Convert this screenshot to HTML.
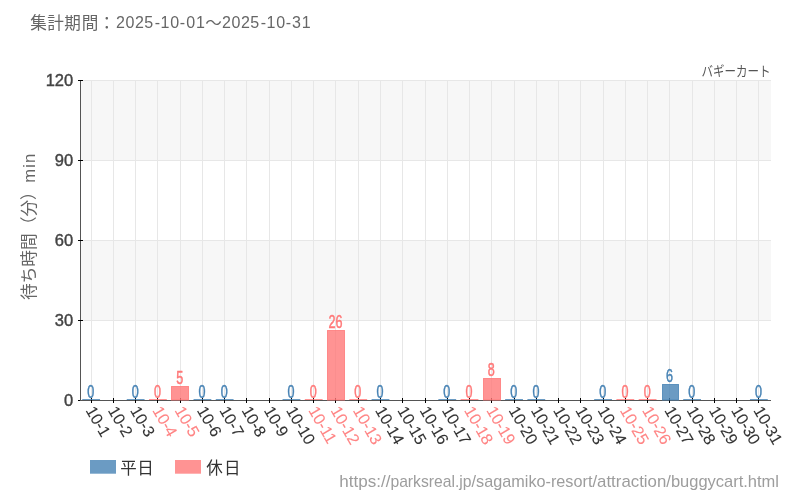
<!DOCTYPE html>
<html lang="ja"><head><meta charset="utf-8"><title>バギーカート 待ち時間</title>
<style>html,body{margin:0;padding:0;background:#fff}body{width:800px;height:500px;overflow:hidden;font-family:"Liberation Sans",sans-serif}svg{display:block}</style>
</head><body>
<svg width="800" height="500" viewBox="0 0 800 500" role="img" aria-label="バギーカート 待ち時間 2025-10">
<title>バギーカート 待ち時間（分）min 集計期間：2025-10-01～2025-10-31</title>
<desc>平日 / 休日</desc>
<rect width="800" height="500" fill="#fff"/>
<g style="will-change:transform">
<g fill="#f7f7f7"><rect x="81" y="80" width="690" height="80"/><rect x="81" y="240" width="690" height="80"/></g>
<g fill="#e7e7e7"><rect x="81" y="80" width="690" height="1"/><rect x="81" y="160" width="690" height="1"/><rect x="81" y="240" width="690" height="1"/><rect x="81" y="320" width="690" height="1"/><rect x="91" y="80" width="1" height="318"/><rect x="113" y="80" width="1" height="318"/><rect x="135" y="80" width="1" height="318"/><rect x="157" y="80" width="1" height="318"/><rect x="180" y="80" width="1" height="318"/><rect x="202" y="80" width="1" height="318"/><rect x="224" y="80" width="1" height="318"/><rect x="246" y="80" width="1" height="318"/><rect x="269" y="80" width="1" height="318"/><rect x="291" y="80" width="1" height="318"/><rect x="313" y="80" width="1" height="318"/><rect x="335" y="80" width="1" height="318"/><rect x="358" y="80" width="1" height="318"/><rect x="380" y="80" width="1" height="318"/><rect x="402" y="80" width="1" height="318"/><rect x="425" y="80" width="1" height="318"/><rect x="447" y="80" width="1" height="318"/><rect x="469" y="80" width="1" height="318"/><rect x="491" y="80" width="1" height="318"/><rect x="514" y="80" width="1" height="318"/><rect x="536" y="80" width="1" height="318"/><rect x="558" y="80" width="1" height="318"/><rect x="580" y="80" width="1" height="318"/><rect x="603" y="80" width="1" height="318"/><rect x="625" y="80" width="1" height="318"/><rect x="647" y="80" width="1" height="318"/><rect x="669" y="80" width="1" height="318"/><rect x="692" y="80" width="1" height="318"/><rect x="714" y="80" width="1" height="318"/><rect x="736" y="80" width="1" height="318"/><rect x="758" y="80" width="1" height="318"/></g>
<rect x="80" y="80" width="1" height="321" fill="#555"/>
<g fill="#000"><rect x="78" y="80" width="5" height="1"/><rect x="78" y="160" width="5" height="1"/><rect x="78" y="240" width="5" height="1"/><rect x="78" y="320" width="5" height="1"/><rect x="78" y="400" width="5" height="1"/></g>
<rect x="80" y="400" width="691" height="1" fill="#555"/>
<g fill="#000"><rect x="91" y="398" width="1" height="5"/><rect x="113" y="398" width="1" height="5"/><rect x="135" y="398" width="1" height="5"/><rect x="157" y="398" width="1" height="5"/><rect x="180" y="398" width="1" height="5"/><rect x="202" y="398" width="1" height="5"/><rect x="224" y="398" width="1" height="5"/><rect x="246" y="398" width="1" height="5"/><rect x="269" y="398" width="1" height="5"/><rect x="291" y="398" width="1" height="5"/><rect x="313" y="398" width="1" height="5"/><rect x="335" y="398" width="1" height="5"/><rect x="358" y="398" width="1" height="5"/><rect x="380" y="398" width="1" height="5"/><rect x="402" y="398" width="1" height="5"/><rect x="425" y="398" width="1" height="5"/><rect x="447" y="398" width="1" height="5"/><rect x="469" y="398" width="1" height="5"/><rect x="491" y="398" width="1" height="5"/><rect x="514" y="398" width="1" height="5"/><rect x="536" y="398" width="1" height="5"/><rect x="558" y="398" width="1" height="5"/><rect x="580" y="398" width="1" height="5"/><rect x="603" y="398" width="1" height="5"/><rect x="625" y="398" width="1" height="5"/><rect x="647" y="398" width="1" height="5"/><rect x="669" y="398" width="1" height="5"/><rect x="692" y="398" width="1" height="5"/><rect x="714" y="398" width="1" height="5"/><rect x="736" y="398" width="1" height="5"/><rect x="758" y="398" width="1" height="5"/></g>
<g fill="#4682b4" stroke="#4682b4" fill-opacity="0.8" stroke-opacity="0.8" stroke-width="0"><rect x="82.23" y="399" width="17.81" height="1"/><rect x="126.74" y="399" width="17.81" height="1"/><rect x="193.52" y="399" width="17.81" height="1"/><rect x="215.77" y="399" width="17.81" height="1"/><rect x="282.55" y="399" width="17.81" height="1"/><rect x="371.58" y="399" width="17.81" height="1"/><rect x="438.35" y="399" width="17.81" height="1"/><rect x="505.13" y="399" width="17.81" height="1"/><rect x="527.39" y="399" width="17.81" height="1"/><rect x="594.16" y="399" width="17.81" height="1"/><rect x="662.5" y="384.5" width="16" height="15.5" stroke-width="1"/><rect x="683.19" y="399" width="17.81" height="1"/><rect x="749.97" y="399" width="17.81" height="1"/></g>
<g fill="#ff7878" stroke="#ff7878" fill-opacity="0.8" stroke-opacity="0.8" stroke-width="0"><rect x="149.00" y="399" width="17.81" height="1"/><rect x="171.5" y="386.5" width="17" height="13.5" stroke-width="1"/><rect x="304.81" y="399" width="17.81" height="1"/><rect x="327.5" y="330.5" width="17" height="69.5" stroke-width="1"/><rect x="349.32" y="399" width="17.81" height="1"/><rect x="460.61" y="399" width="17.81" height="1"/><rect x="483.5" y="378.5" width="17" height="21.5" stroke-width="1"/><rect x="616.42" y="399" width="17.81" height="1"/><rect x="638.68" y="399" width="17.81" height="1"/></g>
<g font-family="Liberation Sans, sans-serif" font-size="16.5" fill="#444" stroke="#444" stroke-width="0.4" text-anchor="end"><text x="73.2" y="86.3">120</text><text x="73.2" y="166.3">90</text><text x="73.2" y="246.3">60</text><text x="73.2" y="326.3">30</text><text x="73.2" y="406.3">0</text></g>
<g font-family="Liberation Sans, sans-serif" font-size="18" text-anchor="middle" stroke-width="0.5" paint-order="stroke" stroke-linejoin="round"><g fill="#4682b4" stroke="#4682b4"><text transform="translate(90.73,397.90) scale(0.70,1)">0</text><text transform="translate(135.25,397.90) scale(0.70,1)">0</text><text transform="translate(202.02,397.90) scale(0.70,1)">0</text><text transform="translate(224.28,397.90) scale(0.70,1)">0</text><text transform="translate(291.05,397.90) scale(0.70,1)">0</text><text transform="translate(380.08,397.90) scale(0.70,1)">0</text><text transform="translate(446.86,397.90) scale(0.70,1)">0</text><text transform="translate(513.63,397.90) scale(0.70,1)">0</text><text transform="translate(535.89,397.90) scale(0.70,1)">0</text><text transform="translate(602.66,397.90) scale(0.70,1)">0</text><text transform="translate(669.44,381.60) scale(0.70,1)">6</text><text transform="translate(691.70,397.90) scale(0.70,1)">0</text><text transform="translate(758.47,397.90) scale(0.70,1)">0</text></g><g fill="#ff7878" stroke="#ff7878"><text transform="translate(157.50,397.90) scale(0.70,1)">0</text><text transform="translate(179.76,383.60) scale(0.70,1)">5</text><text transform="translate(313.31,397.90) scale(0.70,1)">0</text><text transform="translate(335.57,327.60) scale(0.70,1)">26</text><text transform="translate(357.83,397.90) scale(0.70,1)">0</text><text transform="translate(469.12,397.90) scale(0.70,1)">0</text><text transform="translate(491.37,375.60) scale(0.70,1)">8</text><text transform="translate(624.92,397.90) scale(0.70,1)">0</text><text transform="translate(647.18,397.90) scale(0.70,1)">0</text></g></g>
<g font-family="Liberation Sans, sans-serif" font-size="16.2" letter-spacing="-0.1" fill="#333" stroke="#333" stroke-width="0.1"><text transform="translate(85.33,410.30) rotate(60)">10-1</text><text transform="translate(107.59,410.30) rotate(60)">10-2</text><text transform="translate(129.85,410.30) rotate(60)">10-3</text><text transform="translate(152.10,410.30) rotate(60)" fill="#ff8484" stroke="#ff8484">10-4</text><text transform="translate(174.36,410.30) rotate(60)" fill="#ff8484" stroke="#ff8484">10-5</text><text transform="translate(196.62,410.30) rotate(60)">10-6</text><text transform="translate(218.88,410.30) rotate(60)">10-7</text><text transform="translate(241.14,410.30) rotate(60)">10-8</text><text transform="translate(263.39,410.30) rotate(60)">10-9</text><text transform="translate(285.65,410.30) rotate(60)">10-10</text><text transform="translate(307.91,410.30) rotate(60)" fill="#ff8484" stroke="#ff8484">10-11</text><text transform="translate(330.17,410.30) rotate(60)" fill="#ff8484" stroke="#ff8484">10-12</text><text transform="translate(352.43,410.30) rotate(60)" fill="#ff8484" stroke="#ff8484">10-13</text><text transform="translate(374.68,410.30) rotate(60)">10-14</text><text transform="translate(396.94,410.30) rotate(60)">10-15</text><text transform="translate(419.20,410.30) rotate(60)">10-16</text><text transform="translate(441.46,410.30) rotate(60)">10-17</text><text transform="translate(463.72,410.30) rotate(60)" fill="#ff8484" stroke="#ff8484">10-18</text><text transform="translate(485.97,410.30) rotate(60)" fill="#ff8484" stroke="#ff8484">10-19</text><text transform="translate(508.23,410.30) rotate(60)">10-20</text><text transform="translate(530.49,410.30) rotate(60)">10-21</text><text transform="translate(552.75,410.30) rotate(60)">10-22</text><text transform="translate(575.01,410.30) rotate(60)">10-23</text><text transform="translate(597.26,410.30) rotate(60)">10-24</text><text transform="translate(619.52,410.30) rotate(60)" fill="#ff8484" stroke="#ff8484">10-25</text><text transform="translate(641.78,410.30) rotate(60)" fill="#ff8484" stroke="#ff8484">10-26</text><text transform="translate(664.04,410.30) rotate(60)">10-27</text><text transform="translate(686.30,410.30) rotate(60)">10-28</text><text transform="translate(708.55,410.30) rotate(60)">10-29</text><text transform="translate(730.81,410.30) rotate(60)">10-30</text><text transform="translate(753.07,410.30) rotate(60)">10-31</text></g>
<g transform="translate(0,28.6)" fill="#666" font-family="&quot;Liberation Sans&quot;, &quot;Noto Sans CJK JP&quot;, sans-serif" font-size="16.6"><text x="30.3 47.3 64.3 81.8 98.5" y="0">集計期間：</text><text x="205.2" y="0">～</text></g>
<g font-family="Liberation Sans, sans-serif" font-size="16" fill="#666"><text x="116.1 125.4 135 144.3 154.7 160.6 170.2 179.8 186.35 196" y="28.4">2025-10-01</text><text x="222.1 231.4 241 250.3 260.7 266.6 276.2 285.8 292.1 301.8" y="28.4">2025-10-31</text></g>
<text x="770.5" y="75.5" text-anchor="end" fill="#555" font-family="&quot;Liberation Sans&quot;, &quot;Noto Sans CJK JP&quot;, sans-serif" font-size="14" textLength="69" lengthAdjust="spacingAndGlyphs">バギーカート</text>
<g transform="translate(35.2,300) rotate(-90)" fill="#666"><text x="0" y="0" font-family="&quot;Liberation Sans&quot;, &quot;Noto Sans CJK JP&quot;, sans-serif" font-size="16.7">待ち時間（分）</text><text x="117.2" y="0" font-family="Liberation Sans, sans-serif" font-size="16.6" textLength="29" lengthAdjust="spacing">min</text></g>
<rect x="90" y="460" width="26" height="13.7" fill="#4682b4" fill-opacity="0.8"/>
<rect x="175" y="460" width="26" height="13.7" fill="#ff7878" fill-opacity="0.8"/>
<g fill="#333" font-family="&quot;Liberation Sans&quot;, &quot;Noto Sans CJK JP&quot;, sans-serif" font-size="16.5"><text x="120.2 137.3" y="473.6">平日</text><text x="206.2 224.1" y="473.6">休日</text></g>
<g font-family="Liberation Sans, sans-serif" font-size="15.7" fill="#9d9d9d"><text x="339.2" y="487.3" textLength="51.2" lengthAdjust="spacingAndGlyphs">https://</text><text x="390.4" y="487.3" textLength="81.2" lengthAdjust="spacingAndGlyphs">parksreal.jp</text><text x="471.6" y="487.3" textLength="120.8" lengthAdjust="spacingAndGlyphs">/sagamiko-resort</text><text x="592.4" y="487.3" textLength="73.9" lengthAdjust="spacingAndGlyphs">/attraction</text><text x="666.3" y="487.3" textLength="112.7" lengthAdjust="spacingAndGlyphs">/buggycart.html</text></g>
</g>
</svg>
</body></html>
